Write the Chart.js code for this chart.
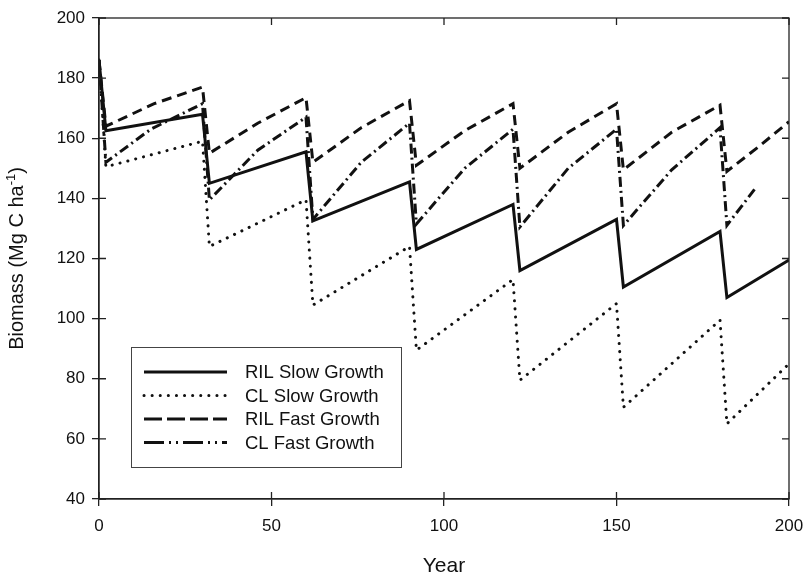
<!DOCTYPE html>
<html>
<head>
<meta charset="utf-8">
<script src="https://cdn.jsdelivr.net/npm/chart.js@4.4.0/dist/chart.umd.min.js"></script>
<style>
  html, body { margin: 0; padding: 0; background: #fff; }
</style>
</head>
<body>
<canvas id="biomassChart" width="809" height="583"></canvas>
<script>
// ---- data ----
const rilSlowYears = [0, 2, 30, 32, 60, 62, 90, 92, 120, 122, 150, 152, 180, 182, 200];
const rilSlowBiomass = [186, 162.5, 168, 145, 155.5, 132.5, 145.5, 123, 138, 116, 133, 110.5, 129, 107, 119.5];

const clSlowYears = [0, 2, 30, 32, 60, 62, 90, 92, 120, 122, 150, 152, 180, 182, 200];
const clSlowBiomass = [186, 150.5, 159, 124, 139.5, 104.5, 124, 89.5, 113, 79.5, 105, 70.5, 99.5, 65, 85];

const rilFastYears = [0, 2, 16, 30, 32, 46, 60, 62, 76, 90, 92, 106, 120, 122, 136, 150, 152, 166, 180, 182, 191, 200];
const rilFastBiomass = [186, 164, 171.5, 177, 155, 165, 173.5, 152, 163.5, 172.5, 151, 162.5, 171.5, 150, 162, 171.5, 149.5, 162, 171, 149, 157, 165.5];

const clFastYears = [0, 2, 15, 30, 32, 46, 60, 62, 76, 90, 92, 106, 120, 122, 136, 150, 152, 166, 180, 182, 190];
const clFastBiomass = [186, 152, 163, 171.5, 139.5, 156, 167, 133, 152, 165, 131.5, 150, 163, 130.5, 150, 163, 131, 149.5, 163.5, 131, 143];

const seriesLabels = ['RIL Slow Growth', 'CL Slow Growth', 'RIL Fast Growth', 'CL Fast Growth'];
const xTicks = [0, 50, 100, 150, 200];
const yTicks = [40, 60, 80, 100, 120, 140, 160, 180, 200];

const FONT = "'Liberation Sans', Arial, sans-serif";
const INK = '#111';

function toPoints(xs, ys) {
    return xs.map((x, i) => ({ x: x, y: ys[i] }));
}

function lineSet(label, xs, ys, dash, legendDash, width) {
    return {
        label: label,
        data: toPoints(xs, ys),
        borderColor: INK,
        borderWidth: width,
        borderDash: dash,
        legendDash: legendDash,
        borderCapStyle: dash.length && dash[0] < 1 ? 'round' : 'butt',
        borderJoinStyle: 'miter',
        pointRadius: 0,
        tension: 0,
        fill: false
    };
}

// frame, inward ticks, y title and boxed legend
const decorations = {
    id: 'decorations',
    afterDraw(chart) {
        const ctx = chart.ctx;
        const a = chart.chartArea;
        const xs = chart.scales.x, ys = chart.scales.y;
        ctx.save();
        ctx.strokeStyle = '#222';
        ctx.lineWidth = 1.3;
        ctx.strokeRect(a.left, a.top, a.right - a.left, a.bottom - a.top);

        // inward ticks on all four sides
        ctx.beginPath();
        xTicks.forEach(v => {
            const px = xs.getPixelForValue(v);
            ctx.moveTo(px, a.bottom); ctx.lineTo(px, a.bottom - 7);
            ctx.moveTo(px, a.top); ctx.lineTo(px, a.top + 7);
        });
        yTicks.forEach(v => {
            const py = ys.getPixelForValue(v);
            ctx.moveTo(a.left, py); ctx.lineTo(a.left + 7, py);
            ctx.moveTo(a.right, py); ctx.lineTo(a.right - 7, py);
        });
        ctx.stroke();

        // y axis title with superscript
        ctx.fillStyle = INK;
        ctx.translate(17, (a.top + a.bottom) / 2);
        ctx.rotate(-Math.PI / 2);
        const main = 'Biomass (Mg C ha';
        const sup = '-1';
        const tail = ')';
        ctx.font = '20px ' + FONT;
        const wMain = ctx.measureText(main).width;
        const wTail = ctx.measureText(tail).width;
        ctx.font = '13px ' + FONT;
        const wSup = ctx.measureText(sup).width;
        let x0 = -(wMain + wSup + wTail) / 2;
        ctx.textBaseline = 'middle';
        ctx.textAlign = 'left';
        ctx.font = '20px ' + FONT;
        ctx.fillText(main, x0, 0);
        ctx.font = '13px ' + FONT;
        ctx.fillText(sup, x0 + wMain, -6);
        ctx.font = '20px ' + FONT;
        ctx.fillText(tail, x0 + wMain + wSup, 0);
        ctx.restore();

        // legend box
        ctx.save();
        ctx.strokeStyle = '#444';
        ctx.lineWidth = 1;
        ctx.fillStyle = '#fff';
        ctx.fillRect(131.5, 347.5, 270, 120);
        ctx.strokeRect(131.5, 347.5, 270, 120);
        const rows = [372, 395.5, 419, 442.5];
        chart.data.datasets.forEach((ds, i) => {
            const y = rows[i];
            ctx.beginPath();
            ctx.strokeStyle = INK;
            ctx.lineWidth = ds.borderWidth;
            ctx.lineCap = ds.borderCapStyle;
            ctx.setLineDash(ds.legendDash);
            ctx.moveTo(144, y);
            ctx.lineTo(227, y);
            ctx.stroke();
            ctx.setLineDash([]);
            ctx.fillStyle = INK;
            ctx.font = '18.5px ' + FONT;
            ctx.textBaseline = 'middle';
            ctx.textAlign = 'left';
            ctx.fillText(ds.label, 245, y + 1);
        });
        ctx.restore();
    }
};

const chart = new Chart(document.getElementById('biomassChart').getContext('2d'), {
    type: 'line',
    data: {
        datasets: [
            lineSet(seriesLabels[0], rilSlowYears, rilSlowBiomass, [], [], 3),
            lineSet(seriesLabels[1], clSlowYears, clSlowBiomass, [0.1, 8], [0.1, 8], 3),
            lineSet(seriesLabels[2], rilFastYears, rilFastBiomass, [10, 6], [18, 5], 3),
            lineSet(seriesLabels[3], clFastYears, clFastBiomass, [10, 4, 2, 4], [20, 5, 2, 5, 2, 5], 3)
        ]
    },
    options: {
        responsive: false,
        animation: false,
        devicePixelRatio: 1,
        layout: { padding: { top: 18, right: 20, left: 0, bottom: 0 } },
        plugins: {
            legend: { display: false },
            tooltip: { enabled: false }
        },
        scales: {
            x: {
                type: 'linear',
                min: 0,
                max: 200,
                afterBuildTicks: s => { s.ticks = xTicks.map(v => ({ value: v })); },
                afterFit: s => { s.height = 84; s.paddingLeft = 0; s.paddingRight = 0; },
                ticks: { color: INK, padding: 10, font: { size: 17, family: FONT } },
                grid: { drawOnChartArea: false, tickLength: 7, color: '#222', lineWidth: 1.3 },
                border: { color: '#222', width: 1.3 },
                title: { display: true, text: 'Year', color: INK, font: { size: 21, family: FONT }, padding: 4 }
            },
            y: {
                type: 'linear',
                min: 40,
                max: 200,
                afterBuildTicks: s => { s.ticks = yTicks.map(v => ({ value: v })); },
                afterFit: s => { s.width = 99; s.paddingTop = 0; s.paddingBottom = 0; },
                ticks: { color: INK, padding: 7, font: { size: 17, family: FONT } },
                grid: { drawOnChartArea: false, tickLength: 7, color: '#222', lineWidth: 1.3 },
                border: { color: '#222', width: 1.3 }
            }
        }
    },
    plugins: [decorations]
});
</script>
</body>
</html>
